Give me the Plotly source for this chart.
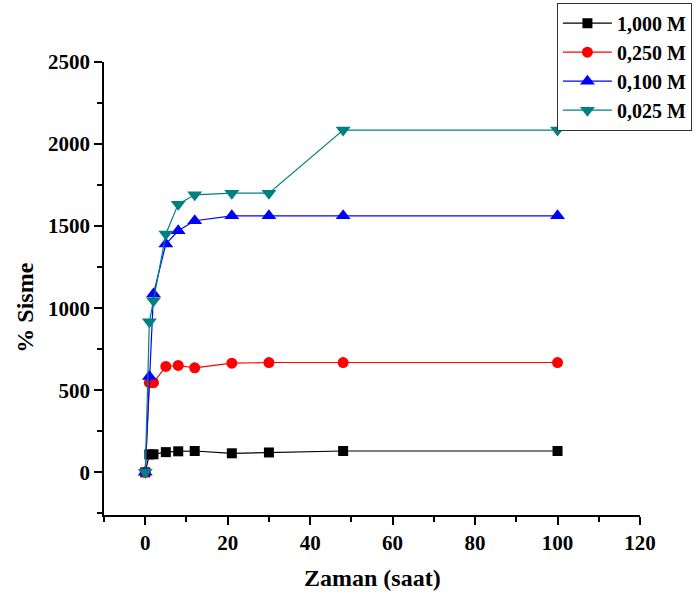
import plotly.graph_objects as go

time_h = [0, 1, 2, 5, 8, 12, 21, 30, 48, 100]
series_names = ["1,000 M", "0,250 M", "0,100 M", "0,025 M"]
swell_1000 = [0, 109, 110, 123, 128, 130, 116, 121, 130, 130]
swell_0250 = [0, 546, 546, 645, 651, 637, 665, 669, 669, 669]
swell_0100 = [0, 584, 1087, 1391, 1472, 1533, 1563, 1563, 1563, 1563]
swell_0025 = [0, 918, 1046, 1452, 1634, 1691, 1701, 1701, 2085, 2085]

colors = ["#000000", "#ff0000", "#0000ff", "#008080"]
symbols = ["square", "circle", "triangle-up", "triangle-down"]
sizes = [10, 11, 13, 13]

FONT = "Liberation Serif"

fig = go.Figure()
for name, ys, c, s, sz in zip(series_names, [swell_1000, swell_0250, swell_0100, swell_0025], colors, symbols, sizes):
    fig.add_trace(go.Scatter(
        x=time_h, y=ys, name=name, mode="lines+markers",
        line=dict(color=c, width=1.2),
        marker=dict(color=c, symbol=s, size=sz, line=dict(width=0)),
    ))

axis_common = dict(
    showgrid=False, zeroline=False, showline=True, linecolor="black", linewidth=1.5,
    ticks="outside", ticklen=8, tickwidth=1.5, tickcolor="black",
    tickfont=dict(family=FONT, size=21, color="black", weight="bold"),
    mirror=False,
)

fig.update_xaxes(range=[-10, 120], tickvals=[0, 20, 40, 60, 80, 100, 120],
                 minor=dict(tickvals=[-10, 10, 30, 50, 70, 90, 110], ticks="outside", ticklen=5, tickwidth=1.5, tickcolor="black"),
                 **axis_common)
fig.update_yaxes(range=[-260, 2500], tickvals=[0, 500, 1000, 1500, 2000, 2500],
                 minor=dict(tickvals=[-250, 250, 750, 1250, 1750, 2250], ticks="outside", ticklen=5, tickwidth=1.5, tickcolor="black"),
                 **axis_common)

fig.add_annotation(text="Zaman (saat)", xref="paper", yref="paper", x=0.5, y=-0.138,
                   xanchor="center", yanchor="middle", showarrow=False,
                   font=dict(family=FONT, size=24, color="black", weight="bold"))
fig.add_annotation(text="% Sisme", xref="paper", yref="paper", x=-0.149, y=0.458,
                   xanchor="center", yanchor="middle", textangle=-90, showarrow=False,
                   font=dict(family=FONT, size=24, color="black", weight="bold"))

fig.update_layout(
    width=697, height=595,
    margin=dict(l=104, r=57, t=62, b=80, autoexpand=False),
    plot_bgcolor="white", paper_bgcolor="white",
    showlegend=True,
    legend=dict(x=0.845, y=1.131, xanchor="left", yanchor="top",
                bordercolor="#333333", borderwidth=1, bgcolor="white",
                font=dict(family=FONT, size=20, color="black", weight="bold"),
                tracegroupgap=0, itemwidth=49),
)

fig.write_html("out.html", config={"displayModeBar": False},
               post_script="document.body.style.margin='0';document.body.style.padding='0';document.body.style.overflow='hidden';")
